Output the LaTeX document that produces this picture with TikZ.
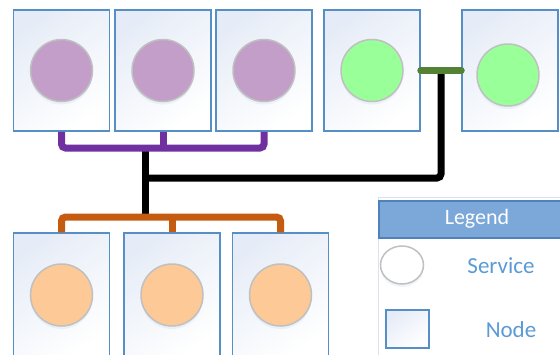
\documentclass[tikz,border=0pt]{standalone}
\usepackage{fontspec}
\setmainfont{Carlito}
\usetikzlibrary{calc,shapes.geometric,shadows}
\definecolor{boxline}{RGB}{86,143,198}
\definecolor{boxtop}{RGB}{230,236,247}
\definecolor{svcline}{RGB}{192,192,192}
\definecolor{svcshadow}{RGB}{190,214,240}
\definecolor{webfill}{RGB}{195,158,200}
\definecolor{appfill}{RGB}{153,255,153}
\definecolor{dbfill}{RGB}{253,201,150}
\definecolor{webline}{RGB}{112,48,160}
\definecolor{appline}{RGB}{84,130,53}
\definecolor{dbline}{RGB}{197,90,17}
\definecolor{headfill}{RGB}{123,167,217}
\definecolor{headline}{RGB}{79,129,189}
\definecolor{frameline}{RGB}{218,226,238}
\definecolor{legendblue}{RGB}{91,155,213}
\tikzset{
  host/.style={draw=boxline, line width=1.5pt, minimum width=96pt, minimum height=121pt,
    top color=boxtop, bottom color=white, shading angle=35},
  svc/.style={circle, draw=svcline, line width=1.5pt, minimum size=62pt,
    drop shadow={shadow xshift=0pt, shadow yshift=-3pt, fill=svcshadow, opacity=0.25}},
  link/.style={line width=7pt, rounded corners=4pt},
  legendtext/.style={text=legendblue, font=\fontsize{23}{27}\selectfont}
}

\begin{document}
\begin{tikzpicture}[x=1pt, y=-1pt]
\useasboundingbox (0,0) rectangle (560,354);
\clip (0,0) rectangle (560,354);
% hosts, top row
\node[host] (p1) at (61.5,70.5) {};
\node[host] (p2) at (163,70.5)  {};
\node[host] (p3) at (264,70.5)  {};
\node[host] (g1) at (372,70.5)  {};
\node[host] (g2) at (510,70.5)  {};
% hosts, bottom row
\node[host, minimum height=124pt] (o1) at (61.5,295) {};
\node[host, minimum height=124pt] (o2) at (172,295)  {};
\node[host, minimum height=124pt] (o3) at (280.5,295) {};
% services
\foreach \i in {p1,p2,p3}
{
  \node[svc, fill=webfill] (s\i) at (\i) {};
}
\node[svc, fill=appfill] (sg1) at (g1) {};
\node[svc, fill=appfill] (sg2) at (508,75) {};
\foreach \i in {o1,o2,o3}
{
  \node[svc, fill=dbfill] (s\i) at (\i) {};
}
% junctions
\coordinate (pj) at (145,148);
\coordinate (bj) at (145,178);
\coordinate (oj) at (145,217);
\coordinate (gj) at ($(g1.east)!0.5!(g2.west)$);
% trunk
\draw[link, black] (pj) -- (oj);
\draw[link, black] (bj) -| (gj);
% groups
\draw[link, webline] (p1.south) |- (pj) -| (p3.south);
\draw[link, webline] (p2.south) -- (p2.south |- pj);
\draw[link, dbline] (o1.north) |- (oj) -| (o3.north);
\draw[link, dbline] (o2.north) -- (o2.north |- oj);
\draw[link, appline, line cap=round] (g1.east) -- (g2.west);
% legend
\draw[frameline, line width=1pt] (378,197) rectangle (590,380);
\node[draw=headline, line width=2pt, fill=headfill, minimum width=196pt, minimum height=37pt,
  text=white, font=\fontsize{22}{26}\selectfont] (lhead) at (477,219) {Legend};
\node[ellipse, draw=svcline, line width=1.5pt, fill=white, minimum width=43pt, minimum height=38pt,
  drop shadow={shadow xshift=0pt, shadow yshift=-3pt, fill=svcshadow, opacity=0.25}] (lsvc) at (402,265) {};
\node[legendtext] (lsvctext) at (501,266) {Service};
\node[host, minimum width=43pt, minimum height=38pt] (lnode) at (407.5,329) {};
\node[legendtext] (lnodetext) at (511,330) {Node};
\end{tikzpicture}
\end{document}
